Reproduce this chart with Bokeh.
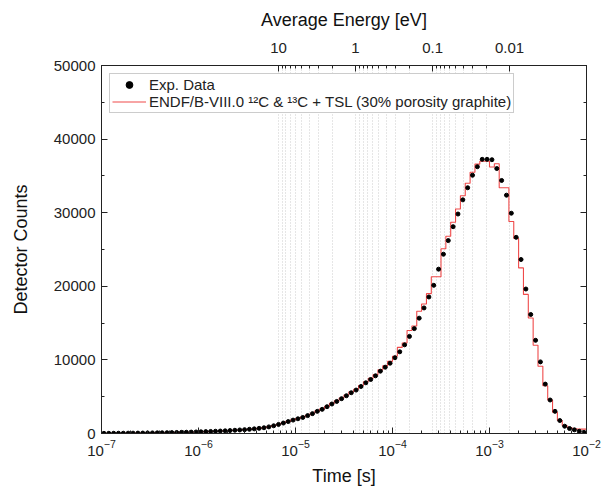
import numpy as np
from bokeh.plotting import figure
from bokeh.models import (LogAxis, LinearAxis, FixedTicker, CustomJSTickFormatter,
                          Range1d, Legend, LegendItem, SingleIntervalTicker)
from bokeh.embed import file_html
from bokeh.resources import INLINE

# ---- data ----
# 20 log-spaced bins per decade from 1e-7 s to 1e-2 s
bin_log_start = -7.0
bins_per_decade = 20
exp_counts = [
    20, 25, 30, 35, 40, 45, 50, 55, 60, 70,
    80, 90, 100, 110, 125, 140, 155, 170, 190, 210,
    230, 255, 280, 305, 335, 365, 400, 440, 480, 520,
    570, 630, 700, 780, 900, 1050, 1230, 1420, 1620, 1820,
    2000, 2180, 2430, 2700, 3010, 3280, 3640, 4010, 4360, 4730,
    5130, 5540, 5900, 6390, 6890, 7340, 7840, 8470, 9010, 9550,
    10300, 11100, 12050, 13190, 14250, 15670, 17060, 18550, 20130, 22330,
    24360, 26210, 28100, 29820, 31750, 33390, 35090, 36250, 37250, 37250,
    37200, 36000, 34380, 32380, 29930, 26650, 23640, 19630, 16170, 12660,
    9730, 6710, 4550, 3010, 1760, 990, 680, 500, 300, 150,
]
sim_counts = [
    20, 25, 30, 35, 40, 45, 50, 55, 60, 70,
    80, 90, 100, 110, 125, 140, 155, 170, 190, 210,
    230, 255, 280, 305, 335, 365, 400, 440, 480, 520,
    580, 640, 710, 800, 920, 1070, 1250, 1450, 1650, 1860,
    2040, 2230, 2480, 2760, 3070, 3350, 3710, 4090, 4450, 4830,
    5230, 5650, 6020, 6520, 7030, 7490, 8000, 8640, 9190, 9800,
    10500, 11700, 12300, 14000, 14600, 16600, 17600, 19000, 21300, 21300,
    25100, 26800, 28700, 30500, 32300, 34000, 35500, 36600, 37000, 37000,
    36200, 36650, 33400, 33400, 28800, 26500, 22500, 18900, 15700, 12000,
    9140, 6480, 4550, 2880, 1760, 1080, 800, 650, 600, 600,
]
energy_major = [10, 1, 0.1, 0.01]
energy_labels = ["10", "1", "0.1", "0.01"]
y_ticks_interval = 10000

def energy_to_time(e):
    return 10 ** (-4.381 - 0.794 * np.log10(e))

n = len(exp_counts)
k = np.arange(n)
t_centers = 10 ** (bin_log_start + (k + 0.5) / bins_per_decade)
t_edges = 10 ** (bin_log_start + np.arange(n + 1) / bins_per_decade)
sim_step = list(sim_counts) + [sim_counts[-1]]

energy_minor = []
for dec in [1, 0.1, 0.01]:
    for m in range(2, 10):
        energy_minor.append(dec * m)
t_major = [float(energy_to_time(e)) for e in energy_major]
t_minor = [float(energy_to_time(e)) for e in energy_minor]

FONT = "Liberation Sans"

p = figure(width=605, height=489, x_axis_type="log", output_backend="svg",
           toolbar_location=None, x_range=Range1d(1e-7, 1e-2),
           y_range=Range1d(0, 50000),
           min_border_left=101, min_border_right=19, min_border_top=65,
           min_border_bottom=56)
p.outline_line_color = "#222222"
p.outline_line_width = 1
p.background_fill_color = "white"
p.border_fill_color = "white"

# grid: dotted verticals at energy ticks
p.ygrid.visible = False
p.xgrid.ticker = FixedTicker(ticks=t_major + t_minor)
p.xgrid.grid_line_color = "#cccccc"
p.xgrid.grid_line_dash = "1 2"
p.xgrid.grid_line_width = 1

step = p.step(t_edges, sim_step, mode="after", line_color="#ef4a4a", line_width=1.1)
dots = p.scatter(t_centers, exp_counts, size=4, color="black")

def style_axis(ax):
    ax.major_tick_in = 6
    ax.major_tick_out = 0
    ax.minor_tick_in = 3
    ax.minor_tick_out = 0
    ax.axis_line_color = "#222222"
    ax.major_tick_line_color = "#222222"
    ax.minor_tick_line_color = "#222222"
    ax.major_label_text_font = FONT
    ax.major_label_text_font_size = "15px"
    ax.major_label_text_color = "#222222"
    ax.axis_label_text_font = FONT
    ax.axis_label_text_font_size = "18px"
    ax.axis_label_text_font_style = "normal"
    ax.axis_label_text_color = "#111111"

xa = p.xaxis[0]
style_axis(xa)
xa.axis_label = "Time [s]"
xa.axis_label_standoff = 7
xa.major_label_standoff = 6

ya = p.yaxis[0]
style_axis(ya)
ya.ticker = SingleIntervalTicker(interval=y_ticks_interval, num_minor_ticks=2)
ya.axis_label = "Detector Counts"
ya.axis_label_standoff = 20
ya.major_label_standoff = 6

top = LogAxis(ticker=FixedTicker(ticks=t_major, minor_ticks=t_minor),
              formatter=CustomJSTickFormatter(args=dict(labels=energy_labels),
                                              code="return labels[index];"))
style_axis(top)
top.axis_label = "Average Energy [eV]"
top.axis_label_standoff = 10
top.major_label_standoff = 13
p.add_layout(top, "above")

right = LinearAxis(ticker=SingleIntervalTicker(interval=y_ticks_interval, num_minor_ticks=2),
                   formatter=CustomJSTickFormatter(code="return '';"))
style_axis(right)
right.major_label_standoff = 0
p.add_layout(right, "right")

legend = Legend(items=[
    LegendItem(label="Exp. Data", renderers=[dots]),
    LegendItem(label="ENDF/B-VIII.0 \u00b9\u00b2C & \u00b9\u00b3C + TSL (30% porosity graphite)",
               renderers=[step]),
], location="top_left")
legend.margin = 8
legend.padding = 2
legend.spacing = 0
legend.label_text_font = FONT
legend.label_text_font_size = "15px"
legend.label_text_color = "#222222"
legend.label_height = 17
legend.glyph_height = 17
legend.glyph_width = 34
legend.label_standoff = 3
legend.border_line_color = "#999999"
legend.border_line_width = 1
legend.background_fill_alpha = 1
p.add_layout(legend, "center")

open("out.html", "w").write(file_html(p, INLINE))
